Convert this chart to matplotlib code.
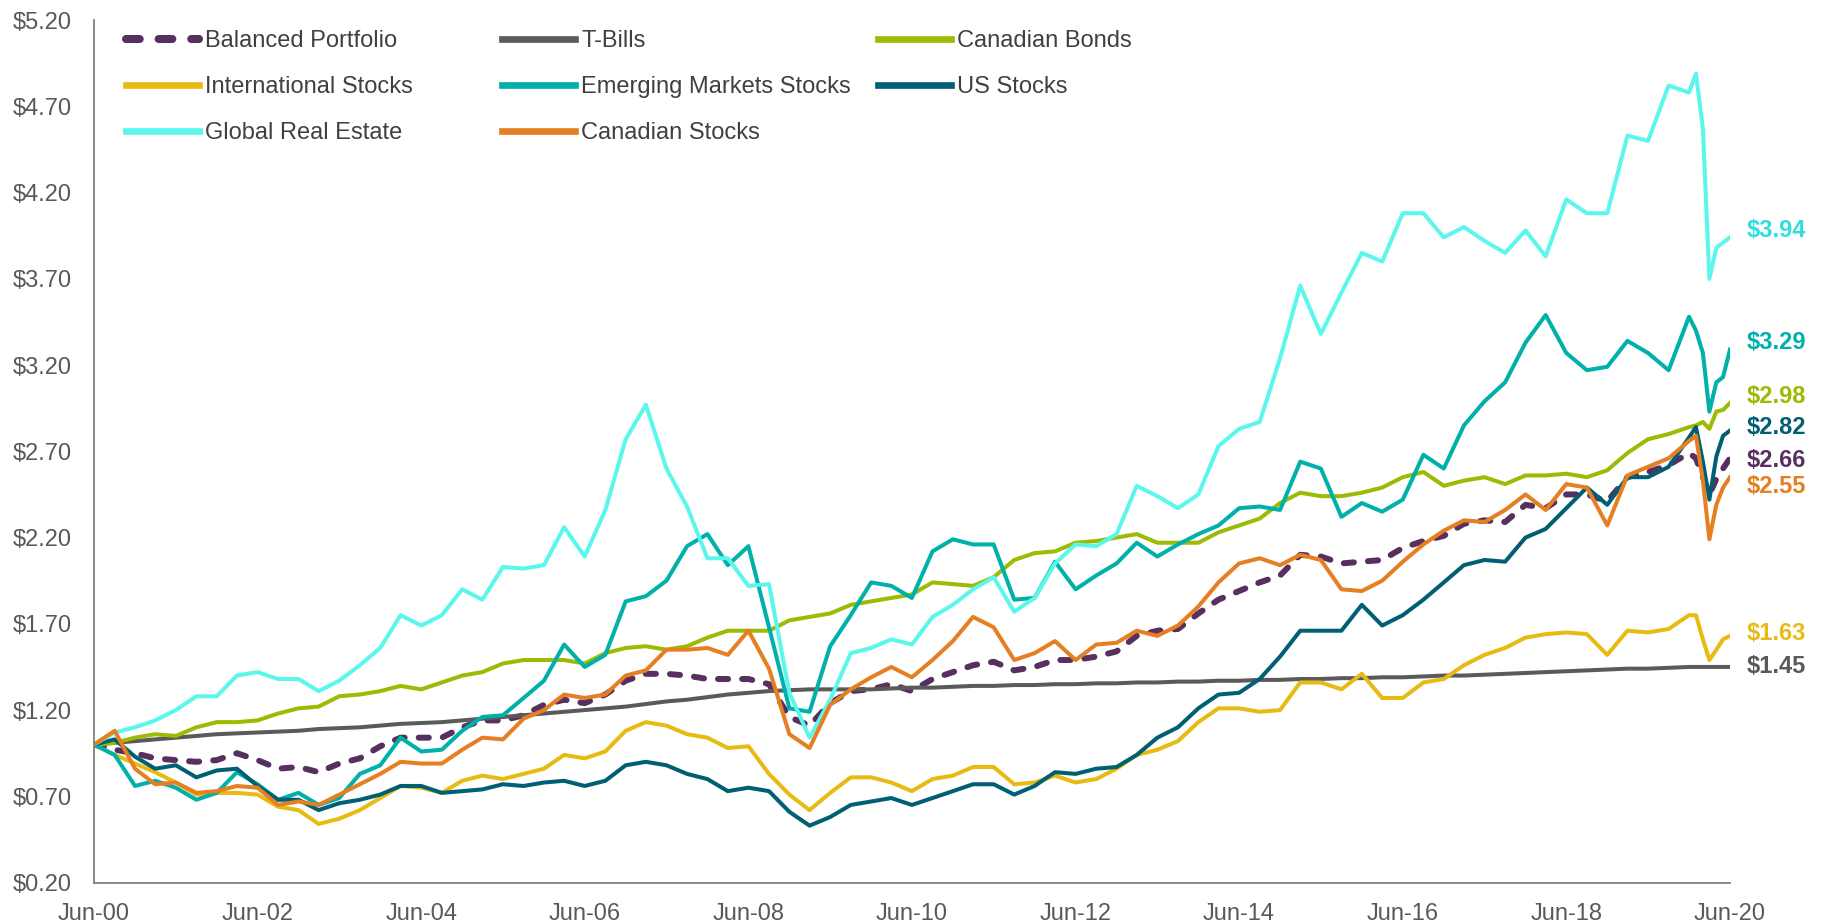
import numpy as np
import matplotlib
matplotlib.use('Agg')
import matplotlib.pyplot as plt
import matplotlib.dates as mdates

plt.rcParams['font.family'] = ['Liberation Sans', 'DejaVu Sans']

# months after Jun-00: quarterly up to Dec-19, then monthly to Jun-20
months = list(range(0, 235, 3)) + list(range(235, 241))
dates = np.datetime64('2000-06', 'M') + np.array(months)

balanced = [1.00, 0.97, 0.95, 0.92,
            0.91, 0.90, 0.91, 0.95,
            0.91, 0.86, 0.87, 0.84,
            0.89, 0.92, 0.99, 1.04,
            1.04, 1.04, 1.10, 1.14,
            1.14, 1.17, 1.23, 1.26,
            1.24, 1.29, 1.37, 1.41,
            1.41, 1.40, 1.38, 1.38,
            1.38, 1.35, 1.16, 1.11,
            1.24, 1.31, 1.32, 1.35,
            1.31, 1.38, 1.42, 1.46,
            1.48, 1.43, 1.45, 1.49,
            1.49, 1.51, 1.54, 1.63,
            1.66, 1.67, 1.76, 1.84,
            1.89, 1.94, 1.98, 2.10,
            2.09, 2.05, 2.06, 2.07,
            2.14, 2.18, 2.21, 2.28,
            2.30, 2.29, 2.39, 2.37,
            2.45, 2.45, 2.41, 2.55,
            2.58, 2.62, 2.69, 2.66, 2.55, 2.45, 2.54, 2.60, 2.66]

t_bills = [1.00, 1.01, 1.02, 1.03,
           1.04, 1.05, 1.06, 1.065,
           1.07, 1.075, 1.08, 1.09,
           1.095, 1.10, 1.11, 1.12,
           1.125, 1.13, 1.14, 1.15,
           1.16, 1.17, 1.18, 1.19,
           1.20, 1.21, 1.22, 1.235,
           1.25, 1.26, 1.275, 1.29,
           1.30, 1.31, 1.315, 1.32,
           1.32, 1.32, 1.32, 1.325,
           1.33, 1.33, 1.335, 1.34,
           1.34, 1.345, 1.345, 1.35,
           1.35, 1.355, 1.355, 1.36,
           1.36, 1.365, 1.365, 1.37,
           1.37, 1.375, 1.375, 1.38,
           1.38, 1.385, 1.385, 1.39,
           1.39, 1.395, 1.40, 1.40,
           1.405, 1.41, 1.415, 1.42,
           1.425, 1.43, 1.435, 1.44,
           1.44, 1.445, 1.45, 1.45, 1.45, 1.45, 1.45, 1.45, 1.45]

cdn_bonds = [1.00, 1.01, 1.04, 1.06,
             1.05, 1.10, 1.13, 1.13,
             1.14, 1.18, 1.21, 1.22,
             1.28, 1.29, 1.31, 1.34,
             1.32, 1.36, 1.40, 1.42,
             1.47, 1.49, 1.49, 1.49,
             1.47, 1.53, 1.56, 1.57,
             1.55, 1.57, 1.62, 1.66,
             1.66, 1.66, 1.72, 1.74,
             1.76, 1.81, 1.83, 1.85,
             1.87, 1.94, 1.93, 1.92,
             1.97, 2.07, 2.11, 2.12,
             2.17, 2.18, 2.20, 2.22,
             2.17, 2.17, 2.17, 2.23,
             2.27, 2.31, 2.40, 2.46,
             2.44, 2.44, 2.46, 2.49,
             2.55, 2.58, 2.50, 2.53,
             2.55, 2.51, 2.56, 2.56,
             2.57, 2.55, 2.59, 2.69,
             2.77, 2.80, 2.84, 2.85, 2.87, 2.83, 2.93, 2.94, 2.98]

intl_stocks = [1.00, 0.94, 0.89, 0.84,
               0.78, 0.71, 0.72, 0.72,
               0.71, 0.64, 0.62, 0.54,
               0.57, 0.62, 0.69, 0.76,
               0.75, 0.72, 0.79, 0.82,
               0.80, 0.83, 0.86, 0.94,
               0.92, 0.96, 1.08, 1.13,
               1.11, 1.06, 1.04, 0.98,
               0.99, 0.83, 0.71, 0.62,
               0.72, 0.81, 0.81, 0.78,
               0.73, 0.80, 0.82, 0.87,
               0.87, 0.77, 0.78, 0.82,
               0.78, 0.80, 0.86, 0.94,
               0.97, 1.02, 1.13, 1.21,
               1.21, 1.19, 1.20, 1.36,
               1.36, 1.32, 1.41, 1.27,
               1.27, 1.36, 1.38, 1.46,
               1.52, 1.56, 1.62, 1.64,
               1.65, 1.64, 1.52, 1.66,
               1.65, 1.67, 1.75, 1.75, 1.61, 1.49, 1.55, 1.61, 1.63]

em_stocks = [1.00, 0.94, 0.76, 0.79,
             0.75, 0.68, 0.72, 0.84,
             0.77, 0.68, 0.72, 0.65,
             0.69, 0.83, 0.88, 1.04,
             0.96, 0.97, 1.08, 1.16,
             1.17, 1.27, 1.37, 1.58,
             1.45, 1.52, 1.83, 1.86,
             1.95, 2.15, 2.22, 2.04,
             2.15, 1.68, 1.21, 1.19,
             1.57, 1.75, 1.94, 1.92,
             1.85, 2.12, 2.19, 2.16,
             2.16, 1.84, 1.85, 2.06,
             1.90, 1.98, 2.05, 2.17,
             2.09, 2.16, 2.22, 2.27,
             2.37, 2.38, 2.36, 2.64,
             2.60, 2.32, 2.40, 2.35,
             2.42, 2.68, 2.60, 2.85,
             2.99, 3.10, 3.33, 3.49,
             3.27, 3.17, 3.19, 3.34,
             3.27, 3.17, 3.48, 3.40, 3.27, 2.93, 3.10, 3.13, 3.29]

us_stocks = [1.00, 1.03, 0.93, 0.86,
             0.88, 0.81, 0.85, 0.86,
             0.76, 0.68, 0.68, 0.62,
             0.66, 0.68, 0.71, 0.76,
             0.76, 0.72, 0.73, 0.74,
             0.77, 0.76, 0.78, 0.79,
             0.76, 0.79, 0.88, 0.90,
             0.88, 0.83, 0.80, 0.73,
             0.75, 0.73, 0.61, 0.53,
             0.58, 0.65, 0.67, 0.69,
             0.65, 0.69, 0.73, 0.77,
             0.77, 0.71, 0.76, 0.84,
             0.83, 0.86, 0.87, 0.94,
             1.04, 1.10, 1.21, 1.29,
             1.30, 1.38, 1.51, 1.66,
             1.66, 1.66, 1.81, 1.69,
             1.75, 1.84, 1.94, 2.04,
             2.07, 2.06, 2.20, 2.25,
             2.37, 2.49, 2.39, 2.55,
             2.55, 2.61, 2.78, 2.84, 2.64, 2.42, 2.67, 2.79, 2.82]

global_re = [1.00, 1.07, 1.10, 1.14,
             1.20, 1.28, 1.28, 1.40,
             1.42, 1.38, 1.38, 1.31,
             1.37, 1.46, 1.56, 1.75,
             1.69, 1.75, 1.90, 1.84,
             2.03, 2.02, 2.04, 2.26,
             2.09, 2.36, 2.77, 2.97,
             2.60, 2.38, 2.08, 2.08,
             1.92, 1.93, 1.30, 1.04,
             1.26, 1.53, 1.56, 1.61,
             1.58, 1.74, 1.81, 1.90,
             1.97, 1.77, 1.85, 2.05,
             2.16, 2.15, 2.22, 2.50,
             2.44, 2.37, 2.45, 2.73,
             2.83, 2.87, 3.24, 3.66,
             3.38, 3.62, 3.85, 3.80,
             4.08, 4.08, 3.94, 4.00,
             3.92, 3.85, 3.98, 3.83,
             4.16, 4.08, 4.08, 4.53,
             4.50, 4.82, 4.78, 4.89, 4.57, 3.70, 3.88, 3.91, 3.94]

cdn_stocks = [1.00, 1.08, 0.86, 0.77,
              0.78, 0.72, 0.73, 0.76,
              0.75, 0.65, 0.67, 0.65,
              0.71, 0.77, 0.83, 0.90,
              0.89, 0.89, 0.97, 1.04,
              1.03, 1.15, 1.20, 1.29,
              1.27, 1.29, 1.40, 1.43,
              1.55, 1.55, 1.56, 1.52,
              1.66, 1.44, 1.06, 0.98,
              1.23, 1.32, 1.39, 1.45,
              1.39, 1.49, 1.60, 1.74,
              1.68, 1.49, 1.53, 1.60,
              1.49, 1.58, 1.59, 1.66,
              1.63, 1.69, 1.80, 1.94,
              2.05, 2.08, 2.04, 2.10,
              2.07, 1.90, 1.89, 1.95,
              2.06, 2.16, 2.24, 2.30,
              2.29, 2.36, 2.45, 2.36,
              2.51, 2.49, 2.27, 2.56,
              2.61, 2.66, 2.76, 2.79, 2.53, 2.19, 2.39, 2.49, 2.55]

series = {
    'Balanced Portfolio': balanced,
    'T-Bills': t_bills,
    'Canadian Bonds': cdn_bonds,
    'International Stocks': intl_stocks,
    'Emerging Markets Stocks': em_stocks,
    'US Stocks': us_stocks,
    'Global Real Estate': global_re,
    'Canadian Stocks': cdn_stocks,
}

line_colors = {
    'Balanced Portfolio': '#57305f',
    'T-Bills': '#5a5a5a',
    'Canadian Bonds': '#9cbb05',
    'International Stocks': '#e8bb14',
    'Emerging Markets Stocks': '#00b0aa',
    'US Stocks': '#005f73',
    'Global Real Estate': '#5bf7ec',
    'Canadian Stocks': '#e67e22',
}
label_colors = dict(line_colors)
label_colors['Global Real Estate'] = '#30dede'
# vertical nudge (points) of the end labels so they do not collide
label_nudge = {
    'Global Real Estate': 5, 'Emerging Markets Stocks': 5, 'Canadian Bonds': 5,
    'US Stocks': 2, 'Balanced Portfolio': -2, 'Canadian Stocks': -7,
    'International Stocks': 2, 'T-Bills': 0,
}

fig = plt.figure(figsize=(18.33, 9.23), dpi=100)
ax = fig.add_axes([0.0513, 0.0438, 0.8925, 0.9345])

handles = {}
for name, vals in series.items():
    if name == 'Balanced Portfolio':
        ln, = ax.plot(dates, vals, color=line_colors[name], lw=4.3, dashes=(1.7, 2.35),
                      dash_capstyle='round', label=name)
    else:
        ln, = ax.plot(dates, vals, color=line_colors[name], lw=2.9,
                      solid_joinstyle='round', label=name)
    handles[name] = ln

for name, vals in series.items():
    ax.annotate('${:.2f}'.format(vals[-1]), xy=(dates[-1], vals[-1]),
                xytext=(12, label_nudge[name]), textcoords='offset points',
                ha='left', va='center', fontsize=17, fontweight='bold',
                color=label_colors[name], annotation_clip=False)

ax.set_xlim(np.datetime64('2000-06', 'M'), np.datetime64('2020-06', 'M'))
ax.set_ylim(0.2, 5.2)
ax.set_yticks(np.arange(0.2, 5.21, 0.5))
ax.yaxis.set_major_formatter(plt.FuncFormatter(lambda v, p: '${:.2f}'.format(v)))
ax.set_xticks(np.datetime64('2000-06', 'M') + np.arange(0, 241, 24))
ax.xaxis.set_major_formatter(mdates.DateFormatter('%b-%y'))

for s in ['top', 'right']:
    ax.spines[s].set_visible(False)
for s in ['left', 'bottom']:
    ax.spines[s].set_color('#808080')
    ax.spines[s].set_linewidth(1.3)
ax.tick_params(length=0, labelsize=17, colors='#595959')
ax.tick_params(axis='y', pad=16)
ax.tick_params(axis='x', pad=14.5)

columns = [
    (['Balanced Portfolio', 'International Stocks', 'Global Real Estate'], 0.0687),
    (['T-Bills', 'Emerging Markets Stocks', 'Canadian Stocks'], 0.2739),
    (['Canadian Bonds', 'US Stocks'], 0.479),
]
for names, x0 in columns:
    leg = fig.legend([handles[n] for n in names], names, loc='upper left',
                     bbox_to_anchor=(x0, 0.9673), frameon=False, borderpad=0,
                     borderaxespad=0, handlelength=3.1, handletextpad=0.25,
                     labelspacing=1.02, fontsize=17)
    for h in leg.legend_handles:
        h.set_linewidth(4.8 if h.get_label() != 'Balanced Portfolio' else 5.8)
    for t in leg.get_texts():
        t.set_color('#404040')

fig.savefig('out.png', dpi=100)
plt.close(fig)
